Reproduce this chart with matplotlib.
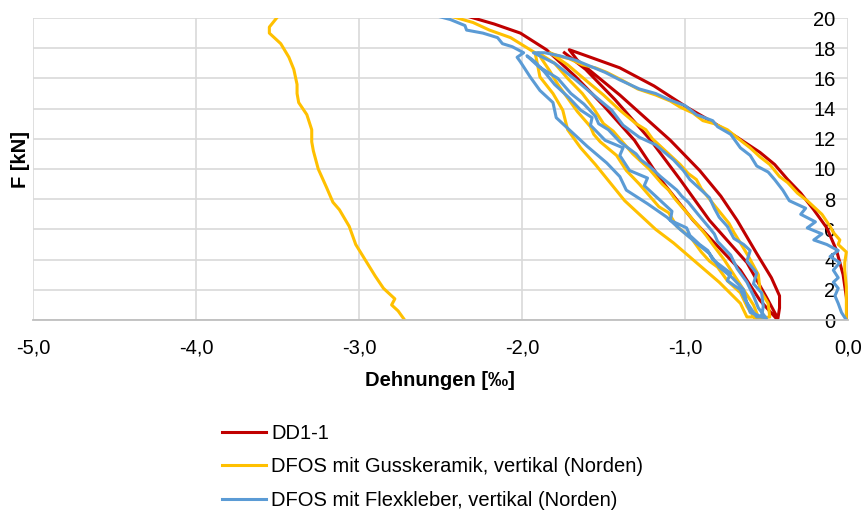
import numpy as np
import matplotlib
matplotlib.use("Agg")
import matplotlib.pyplot as plt

plt.rcParams['font.family'] = ['Liberation Sans', 'DejaVu Sans']

nan = np.nan

# DD1-1 (Wegaufnehmer): Erstbelastung, Entlastung, Wiederbelastungen
dd_x = [0.00, -0.01, -0.03, -0.07, -0.13, -0.21, -0.29, -0.37, -0.45, -0.54, -0.68, -0.83,
        -0.99, -1.19, -1.40, -1.58, -1.71,
        -1.66, -1.40, -1.09, -0.91, -0.78, -0.68, -0.56, -0.47, -0.42, -0.42, -0.43,
        -0.50, -0.62, -0.85, -1.03, -1.21, -1.43, -1.61, -1.74,
        nan,
        -0.44, -0.54, -0.66, -0.95, -1.15, -1.31, -1.50, -1.67, -1.85, -2.01, -2.17, -2.32]
dd_f = [0.0, 1.5, 3.0, 4.6, 6.1, 7.3, 8.4, 9.3, 10.3, 11.1, 12.1, 13.1,
        14.1, 15.5, 16.7, 17.4, 17.9,
        17.2, 14.9, 11.9, 9.9, 8.2, 6.6, 4.4, 2.8, 1.6, 0.8, 0.1,
        1.5, 3.8, 6.6, 9.3, 11.9, 14.6, 16.6, 17.7,
        nan,
        0.1, 1.3, 3.3, 6.6, 9.3, 11.9, 14.2, 16.1, 17.9, 19.0, 19.6, 20.07]

# DFOS mit Gusskeramik
guss_x = [-0.01, -0.01, -0.01, -0.02, -0.02, -0.01, -0.06, -0.05, -0.09, -0.11, -0.16, -0.20,
          -0.25, -0.31, -0.37, -0.42, -0.48, -0.54, -0.60, -0.66, -0.74, -0.82, -0.89, -0.95,
          -1.03, -1.09, -1.18, -1.29, -1.39, -1.48, -1.55, -1.63, -1.71, -1.78, -1.83,
          -1.72, -1.60, -1.50, -1.40, -1.30, -1.24, -1.20, -1.12, -1.03, -0.98, -0.93, -0.90,
          -0.82, -0.76, -0.73, -0.70, -0.66, -0.61, -0.58, -0.55, -0.54, -0.49, -0.48,
          -0.57, -0.62, -0.66, -0.74, -0.80, -0.85, -0.90, -0.96, -1.05, -1.10, -1.16, -1.20,
          -1.28, -1.36, -1.42, -1.52, -1.56, -1.58, -1.66, -1.72, -1.78, -1.83, -1.88, -1.90,
          -1.80, -1.72, -1.63, -1.56, -1.50, -1.44, -1.40, -1.32, -1.22, -1.14, -1.10, -1.06,
          -0.98, -0.90, -0.87, -0.83, -0.76, -0.70, -0.64, -0.58, -0.55,
          -0.62, -0.66, -0.79, -0.93, -1.07, -1.18, -1.28, -1.37, -1.46, -1.55, -1.64, -1.72,
          -1.75, -1.81, -1.89, -1.91, -1.92, -1.95, -2.01, -2.07, -2.20, -2.30, -2.42,
          nan,
          -3.50, -3.55, -3.55, -3.48, -3.43, -3.40, -3.38, -3.38, -3.37, -3.32, -3.29, -3.29,
          -3.28, -3.25, -3.20, -3.16, -3.12, -3.06, -3.04, -3.02, -2.98, -2.94, -2.90, -2.85,
          -2.78, -2.80, -2.76, -2.72]
guss_f = [0.0, 1.3, 2.2, 3.3, 3.8, 4.5, 5.0, 5.3, 5.8, 6.2, 7.0, 7.4,
          7.9, 8.4, 9.1, 9.5, 10.3, 10.8, 11.4, 11.9, 12.6, 13.0, 13.2, 13.7,
          14.1, 14.5, 14.9, 15.3, 15.9, 16.4, 16.7, 16.9, 17.3, 17.5, 17.7,
          16.9, 15.8, 14.9, 13.9, 13.0, 12.6, 12.0, 11.2, 10.3, 9.7, 9.3, 8.7,
          7.6, 6.8, 6.4, 5.8, 5.1, 4.2, 3.6, 3.0, 2.0, 1.1, 0.2,
          0.1, 0.9, 1.8, 2.6, 3.5, 3.9, 4.5, 5.4, 6.2, 7.1, 7.5, 8.0,
          9.0, 9.9, 10.9, 11.8, 12.3, 12.8, 13.8, 14.7, 15.6, 16.5, 17.3, 17.7,
          17.0, 16.0, 15.0, 14.0, 13.0, 12.5, 12.0, 11.0, 10.0, 9.0, 8.6, 8.0,
          7.0, 6.0, 5.6, 5.0, 4.0, 3.0, 2.0, 1.0, 0.2,
          0.2, 1.1, 2.5, 3.8, 5.1, 6.0, 7.0, 7.9, 9.1, 10.3, 11.4, 12.6,
          13.9, 15.0, 16.1, 17.2, 17.7, 17.9, 18.3, 18.7, 19.2, 19.7, 20.07,
          nan,
          20.07, 19.4, 19.0, 18.3, 17.4, 16.6, 15.6, 15.0, 14.4, 13.6, 12.6, 11.8,
          11.2, 10.0, 8.8, 7.8, 7.3, 6.2, 5.6, 5.0, 4.3, 3.6, 2.9, 2.1,
          1.4, 1.0, 0.6, 0.0]

# DFOS mit Flexkleber
flex_x = [-0.01, -0.04, -0.06, -0.08, -0.06, -0.09, -0.06, -0.09, -0.05, -0.11, -0.06, -0.13,
          -0.21, -0.16, -0.25, -0.20, -0.29, -0.26, -0.36, -0.40, -0.45, -0.49, -0.56, -0.60,
          -0.66, -0.72, -0.80, -0.83, -0.93, -1.00, -1.10, -1.18, -1.28, -1.40, -1.49, -1.58,
          -1.67, -1.77, -1.86, -1.93,
          -1.80, -1.67, -1.55, -1.45, -1.38, -1.28, -1.18, -1.07, -1.01, -0.97, -0.85, -0.82,
          -0.79, -0.74, -0.70, -0.64, -0.60, -0.62, -0.56, -0.58, -0.53, -0.52, -0.53,
          -0.56, -0.63, -0.66, -0.74, -0.72, -0.83, -0.86, -0.91, -0.97, -0.99, -1.09, -1.08,
          -1.15, -1.25, -1.23, -1.34, -1.40, -1.38, -1.49, -1.58, -1.57, -1.64, -1.71, -1.80,
          -1.86, -1.92, -1.97,
          -1.90, -1.78, -1.70, -1.62, -1.55, -1.53, -1.47, -1.40, -1.30, -1.27, -1.22, -1.15,
          -1.05, -1.02, -0.98, -0.92, -0.85, -0.82, -0.80, -0.72, -0.68, -0.62, -0.58, -0.55,
          -0.50,
          -0.60, -0.62, -0.64, -0.71, -0.79, -0.85, -0.93, -1.03, -1.11, -1.23, -1.36, -1.40,
          -1.48, -1.60, -1.71, -1.79, -1.81, -1.89, -1.95, -2.01, -2.03,
          -1.99, -2.06, -2.12, -2.15, -2.24, -2.34, -2.35, -2.44, -2.50]
flex_f = [0.0, 0.5, 1.1, 1.6, 2.1, 2.5, 2.8, 3.3, 3.8, 4.2, 4.6, 5.0,
          5.3, 5.7, 6.1, 6.5, 7.0, 7.4, 7.9, 8.6, 9.3, 9.8, 10.2, 10.9,
          11.4, 12.3, 12.8, 13.2, 13.6, 14.2, 14.6, 15.0, 15.3, 15.9, 16.4, 16.8,
          17.2, 17.5, 17.7, 17.7,
          17.0, 15.9, 14.8, 13.9, 12.9, 12.1, 11.6, 10.6, 9.9, 9.3, 8.1, 7.4,
          6.8, 6.2, 5.4, 5.0, 4.6, 3.9, 3.1, 2.4, 1.8, 0.9, 0.2,
          0.2, 1.3, 2.0, 2.6, 3.1, 4.0, 4.6, 5.0, 5.6, 6.1, 6.6, 7.2,
          7.9, 8.9, 9.4, 9.9, 10.9, 11.4, 11.9, 12.9, 13.4, 13.9, 14.7, 15.6,
          16.4, 17.1, 17.5,
          16.8, 16.0, 15.0, 14.3, 13.5, 13.0, 12.6, 11.8, 11.0, 10.6, 10.2, 9.5,
          8.6, 8.2, 7.8, 7.0, 6.1, 5.7, 5.2, 4.3, 3.4, 2.5, 1.6, 0.8,
          0.1,
          0.5, 1.1, 2.0, 2.8, 3.5, 4.4, 5.1, 6.0, 6.8, 7.7, 8.6, 9.5,
          10.4, 11.5, 12.6, 13.4, 14.4, 15.2, 16.1, 17.1, 17.4,
          17.7, 18.1, 18.3, 18.7, 19.0, 19.2, 19.5, 19.9, 20.07]

labels = ["DD1-1",
          "DFOS mit Gusskeramik, vertikal (Norden)",
          "DFOS mit Flexkleber, vertikal (Norden)"]
colors = ["#C00000", "#FFC000", "#5B9BD5"]

x_ticks = [-5, -4, -3, -2, -1, 0]
x_ticklabels = ["-5,0", "-4,0", "-3,0", "-2,0", "-1,0", "0,0"]
y_ticks = list(range(0, 21, 2))

fs = 14.5

fig = plt.figure(figsize=(8.67, 5.2), dpi=100)
ax = fig.add_axes([33/867, 1-320/520, (848-33)/867, (320-18)/520])

l1, = ax.plot(dd_x, dd_f, color=colors[0], lw=2.2, label=labels[0])
l2, = ax.plot(guss_x, guss_f, color=colors[1], lw=2.2, label=labels[1])
l3, = ax.plot(flex_x, flex_f, color=colors[2], lw=2.2, label=labels[2])

ax.set_xlim(-5, 0)
ax.set_ylim(0, 20)
ax.set_xticks(x_ticks)
ax.set_xticklabels(x_ticklabels)
ax.set_yticks(y_ticks)
ax.yaxis.tick_right()
ax.tick_params(axis='x', length=0, labelsize=fs, pad=13)
ax.tick_params(axis='y', length=0, labelsize=fs, pad=-9)
for t in ax.get_yticklabels():
    t.set_horizontalalignment('right')

ax.grid(True, color="#d9d9d9", lw=1.2)
ax.set_axisbelow(True)
for s in ["top", "left", "right"]:
    ax.spines[s].set_visible(False)
ax.spines["bottom"].set_color("#bfbfbf")
ax.spines["bottom"].set_linewidth(1.3)

fig.text(440/867, 1-380/520, "Dehnungen [‰]", fontsize=fs, fontweight='bold',
         ha='center', va='center')
fig.text(20/867, 1-160/520, "F [kN]", fontsize=fs, fontweight='bold',
         rotation=90, ha='center', va='center')

fig.legend(handles=[l1, l2, l3], loc='center left',
           bbox_to_anchor=(222/867, 1-467/520), frameon=False, fontsize=fs,
           handlelength=2.2, handletextpad=0.25, labelspacing=0.72,
           borderpad=0, borderaxespad=0)

fig.savefig("out.png", dpi=100)
